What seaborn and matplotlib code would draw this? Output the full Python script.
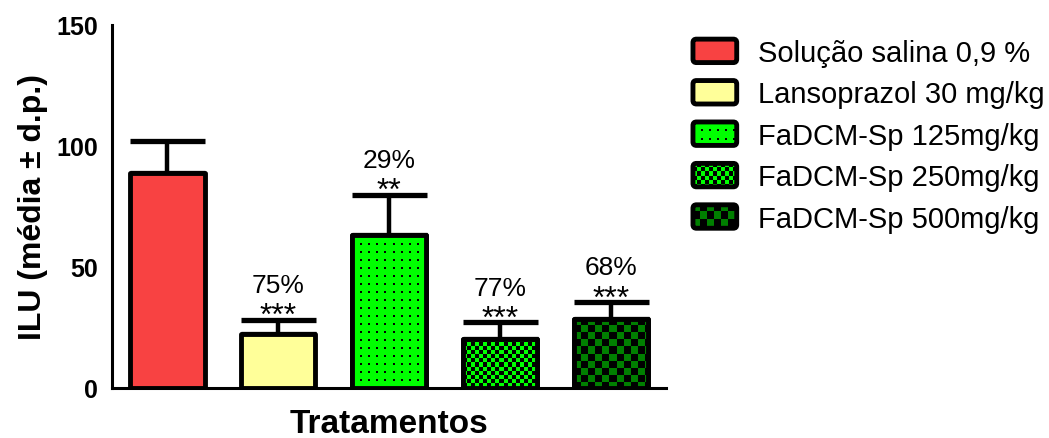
import numpy as np
import matplotlib
matplotlib.use('Agg')
import matplotlib.pyplot as plt
import seaborn as sns
from matplotlib.patches import Patch, FancyBboxPatch, Rectangle
from matplotlib.legend_handler import HandlerBase
from matplotlib.image import BboxImage
from matplotlib.transforms import Bbox, TransformedBbox

# ---- data ----
treatments = ['Solução salina 0,9 %', 'Lansoprazol 30 mg/kg', 'FaDCM-Sp 125mg/kg',
              'FaDCM-Sp 250mg/kg', 'FaDCM-Sp 500mg/kg']
ilu_mean = [89.0, 22.5, 63.2, 20.3, 28.6]
ilu_sd = [13.0, 5.8, 16.7, 6.8, 6.9]
inhibition = ['', '75%', '29%', '77%', '68%']
signif = ['', '***', '**', '***', '***']

face_colors = ['#F84242', '#FFFF99', '#00FF00', '#00FF00', '#007F00']
patterns = [None, None, 'dots', 'fine_check', 'coarse_check']

DPI = 100
sns.set_theme(style='white')
plt.rcParams['font.family'] = ['Liberation Sans', 'DejaVu Sans']
for key in ['text.color', 'axes.labelcolor', 'xtick.color', 'ytick.color', 'axes.edgecolor']:
    plt.rcParams[key] = 'black'


def hex_rgb(c):
    return np.array(matplotlib.colors.to_rgb(c))


def make_pattern(kind, color, h, w):
    h, w = max(int(round(h)), 1), max(int(round(w)), 1)
    i, j = np.indices((h, w))
    img = np.ones((h, w, 3)) * hex_rgb(color)
    if kind == 'dots':
        mask = ((i % 8) < 2) & ((j % 8) < 2)
    elif kind == 'fine_check':
        mask = ((i // 4 + j // 4) % 2) == 1
    elif kind == 'coarse_check':
        mask = ((i // 7 + j // 7) % 2) == 1
    else:
        return img
    img[mask] = 0.0
    return img


class PatternHandler(HandlerBase):
    def __init__(self, color, kind):
        super().__init__()
        self.color = color
        self.kind = kind

    def create_artists(self, legend, orig_handle, xdescent, ydescent,
                       width, height, fontsize, trans):
        x0, y0 = -xdescent, -ydescent
        arts = [Rectangle((x0, y0), width, height, fc=self.color, ec='none', transform=trans)]
        if self.kind:
            bb = TransformedBbox(Bbox.from_bounds(x0, y0, width, height), trans)
            im = BboxImage(bb, interpolation='nearest')
            im.set_data(make_pattern(self.kind, self.color, height * DPI / 72, width * DPI / 72))
            arts.append(im)
        arts.append(FancyBboxPatch((x0, y0), width, height,
                                   boxstyle='round,pad=0,rounding_size=2.5',
                                   fc='none', ec='black', lw=3.5, transform=trans))
        return arts


fig = plt.figure(figsize=(10.49, 4.39), dpi=DPI)
ax = fig.add_axes([0.1068, 0.1139, 0.635 - 0.1068, 0.9408 - 0.1139])

sns.barplot(x=treatments, y=ilu_mean, hue=treatments, palette=face_colors,
            saturation=1, width=0.67, edgecolor='black', linewidth=3.5, legend=False,
            errorbar=None, ax=ax, zorder=2)

ax.errorbar(range(len(treatments)), ilu_mean, yerr=[np.zeros(len(ilu_sd)), ilu_sd],
            fmt='none', ecolor='black', elinewidth=3.2, capsize=27, capthick=3.8, zorder=1)

ax.set_xlim(-0.5, 4.5)
ax.set_ylim(0, 150)
ax.set_yticks([0, 50, 100, 150])

# patterned fills clipped to the bars
for p, kind, col in zip(ax.patches, patterns, face_colors):
    p.set_joinstyle('round')
    if kind is None:
        continue
    ext = p.get_window_extent()
    img = make_pattern(kind, col, ext.height, ext.width)
    x0, y0 = p.get_x(), p.get_y()
    ax.imshow(img, extent=(x0, x0 + p.get_width(), y0, y0 + p.get_height()),
              aspect='auto', interpolation='nearest', zorder=2.1, clip_path=p)
    ax.add_patch(Rectangle(p.get_xy(), p.get_width(), p.get_height(), fill=False,
                           ec='black', lw=3.5, joinstyle='round', zorder=2.2))
ax.set_xlim(-0.5, 4.5)
ax.set_ylim(0, 150)

# annotations above the error bars
for k in range(len(treatments)):
    top = ilu_mean[k] + ilu_sd[k]
    if signif[k]:
        ax.text(k, top - 1.8, signif[k], ha='center', va='baseline', fontsize=23, zorder=5)
    if inhibition[k]:
        ax.text(k, top + 11.5, inhibition[k], ha='center', va='baseline', fontsize=19, zorder=5)

for s in ['top', 'right']:
    ax.spines[s].set_visible(False)
for s in ['left', 'bottom']:
    ax.spines[s].set_linewidth(2.2)

ax.tick_params(axis='both', direction='out', length=7, width=2.2, color='black')
ax.tick_params(axis='y', labelsize=18, pad=3)
ax.set_xticks(range(len(treatments)))
ax.set_xticklabels([])
for t in ax.get_yticklabels():
    t.set_fontweight('bold')

ax.set_xlabel('Tratamentos', fontsize=24, fontweight='bold', va='baseline')
ax.xaxis.set_label_coords(0.5, -0.12)
ax.set_ylabel('ILU (média ± d.p.)', fontsize=23, fontweight='bold', labelpad=6)

handles = [Patch(label=t) for t in treatments]
hmap = {h: PatternHandler(c, k) for h, c, k in zip(handles, face_colors, patterns)}
fig.legend(handles=handles, handler_map=hmap, loc='upper left',
           bbox_to_anchor=(0.6606, 0.909), frameon=False, fontsize=21,
           borderpad=0, borderaxespad=0, handlelength=1.5, handleheight=0.86,
           handletextpad=0.72, labelspacing=0.46)

fig.savefig('out.png', dpi=DPI)
